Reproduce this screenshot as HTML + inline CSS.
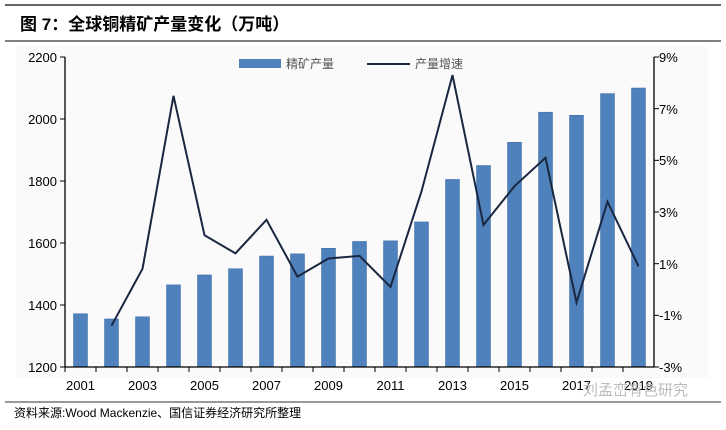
<!DOCTYPE html>
<html><head><meta charset="utf-8"><style>
body{margin:0;width:726px;height:425px;background:#fff;overflow:hidden;font-family:"Liberation Sans","Noto Sans CJK SC",sans-serif;}
</style></head><body>
<svg width="726" height="425" xmlns="http://www.w3.org/2000/svg" font-family="Liberation Sans, Noto Sans CJK SC, sans-serif">
<line x1="5" y1="5" x2="721" y2="5" stroke="#333" stroke-width="1.5"/>
<text x="20" y="30" font-size="17" font-weight="bold" fill="#000">图 <tspan fill="#000">7</tspan>：全球铜精矿产量变化（万吨）</text>
<line x1="5" y1="41" x2="721" y2="41" stroke="#333" stroke-width="1.2"/>
<rect x="16" y="46" width="692" height="332" fill="#fafafa"/>
<g id="bars" fill="#4f81bd" stroke="#3b6aa3" stroke-width="0.5"></g>
<polyline id="ln" fill="none" stroke="#1a2740" stroke-width="2"/>
<!-- axes -->
<line x1="65" y1="57" x2="65" y2="367" stroke="#000" stroke-width="1.3"/>
<line x1="654" y1="57" x2="654" y2="367" stroke="#000" stroke-width="1.3"/>
<line x1="65" y1="367" x2="654" y2="367" stroke="#000" stroke-width="1.3"/>
<g id="ticks" stroke="#000" stroke-width="1"></g>
<g font-size="13" fill="#000" text-anchor="end">
<text x="57" y="62">2200</text><text x="57" y="124">2000</text><text x="57" y="186">1800</text><text x="57" y="248">1600</text><text x="57" y="310">1400</text><text x="57" y="372">1200</text>
</g>
<g font-size="13" fill="#000">
<text x="659" y="62">9%</text><text x="659" y="114">7%</text><text x="659" y="165">5%</text><text x="659" y="217">3%</text><text x="659" y="269">1%</text><text x="659" y="320">-1%</text><text x="659" y="372">-3%</text>
</g>
<g font-size="13" fill="#000" text-anchor="middle" id="xl"></g>
<rect x="239" y="59" width="42" height="9" fill="#4f81bd"/>
<text x="286" y="68" font-size="12" fill="#555">精矿产量</text>
<line x1="367" y1="64" x2="410" y2="64" stroke="#1a2740" stroke-width="2"/>
<text x="415" y="68" font-size="12" fill="#555">产量增速</text>
<text x="583" y="395" font-size="15" fill="#bbb">刘孟峦有色研究</text>
<line x1="5" y1="402" x2="721" y2="402" stroke="#333" stroke-width="1"/>
<text x="14" y="417" font-size="12" fill="#000">资料来源:Wood Mackenzie、国信证券经济研究所整理</text>
</svg>
<script>
var v=[1372,1355,1362,1465,1497,1517,1558,1565,1583,1605,1607,1668,1805,1850,1925,2022,2012,2082,2100];
var g=[null,-1.4,0.8,7.5,2.1,1.4,2.7,0.5,1.2,1.3,0.1,3.8,8.3,2.5,4.0,5.1,-0.5,3.4,0.9];
var ns="http://www.w3.org/2000/svg",b=document.getElementById('bars'),t=document.getElementById('ticks'),xl=document.getElementById('xl'),pts=[];
for(var i=0;i<19;i++){var c=65+15.5+31*i,y=367-(v[i]-1200)*0.31;
var r=document.createElementNS(ns,'rect');r.setAttribute('x',c-7);r.setAttribute('y',y);r.setAttribute('width',14);r.setAttribute('height',367-y);b.appendChild(r);
if(g[i]!==null)pts.push(c+','+(367-(g[i]+3)*25.83));
if(i%2==0){var tx=document.createElementNS(ns,'text');tx.setAttribute('x',c);tx.setAttribute('y',390);tx.textContent=2001+i;xl.appendChild(tx);}
var l=document.createElementNS(ns,'line');var xx=65+31*i;l.setAttribute('x1',xx);l.setAttribute('x2',xx);l.setAttribute('y1',367);l.setAttribute('y2',372);t.appendChild(l);}
document.getElementById('ln').setAttribute('points',pts.join(' '));
for(var k=0;k<7;k++){var yy=57+k*51.67;var a=document.createElementNS(ns,'line');a.setAttribute('x1',654);a.setAttribute('x2',659);a.setAttribute('y1',yy);a.setAttribute('y2',yy);t.appendChild(a);
var yl=57+k*62;var d=document.createElementNS(ns,'line');d.setAttribute('x1',60);d.setAttribute('x2',65);d.setAttribute('y1',yl);d.setAttribute('y2',yl);t.appendChild(d);}
</script>
</body></html>
